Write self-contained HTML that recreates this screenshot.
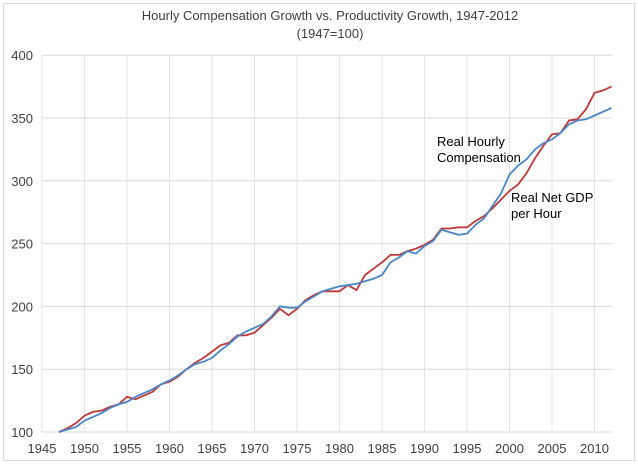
<!DOCTYPE html>
<html><head><meta charset="utf-8"><style>
body{margin:0;background:#fff}
svg text{font-family:"Liberation Sans",sans-serif;fill:#404040}
</style></head><body>
<svg id="s" width="638" height="466" xmlns="http://www.w3.org/2000/svg">
<rect x="3.5" y="3.5" width="631" height="457" fill="#fff" stroke="#d9d9d9"/>
<text x="330" y="20" font-size="13" text-anchor="middle">Hourly Compensation Growth vs. Productivity Growth, 1947-2012</text>
<text x="330" y="38" font-size="13" text-anchor="middle">(1947=100)</text>
<g id="g"></g>
<text x="437" y="146" font-size="13" fill="#000" style="fill:#000">Real Hourly</text>
<text x="437" y="162" font-size="13" style="fill:#000">Compensation</text>
<text x="511" y="202" font-size="13" style="fill:#000">Real Net GDP</text>
<text x="511" y="218" font-size="13" style="fill:#000">per Hour</text>
</svg>
<script>
var g=document.getElementById('g'),ns="http://www.w3.org/2000/svg",h='';
function X(y){return 42+(y-1945)*8.5}function Y(v){return 432-(v-100)*62.8/50}
for(var v=100;v<=400;v+=50){h+='<line x1="42" x2="612" y1="'+Y(v)+'" y2="'+Y(v)+'" stroke="#d9d9d9"/>';
h+='<text x="33" y="'+(Y(v)+5)+'" font-size="13" text-anchor="end">'+v+'</text>';}
for(var y=1945;y<=2010;y+=5){h+='<line y1="55" y2="432" x1="'+X(y)+'" x2="'+X(y)+'" stroke="#e3e3e3"/>';
h+='<text x="'+X(y)+'" y="453" font-size="13" text-anchor="middle">'+y+'</text>';}
var b=[100,102,104,109,112,115,119,122,124,128,131,134,138,141,145,150,154,156,159,165,170,176,180,183,186,192,200,199,199,204,208,212,214,216,217,218,220,222,225,235,239,244,242,248,252,261,259,257,258,265,270,280,290,305,312,317,325,330,333,338,345,348,349,352,355,358];
var r=[100,103,107,113,116,117,120,122,128,126,129,132,138,140,144,150,155,159,164,169,171,177,177,179,185,191,198,193,198,205,209,212,212,212,217,213,225,230,235,241,241,244,246,249,253,262,262,263,263,268,272,278,285,292,297,306,318,328,337,338,348,349,357,370,372,375];
function pl(a,c){var p=a.map(function(v,i){return X(1947+i).toFixed(1)+','+Y(v).toFixed(1)}).join(' ');
return '<polyline points="'+p+'" fill="none" stroke="'+c+'" stroke-width="1.8"/>';}
h+=pl(r,'#c0393b')+pl(b,'#4a86c8');
g.innerHTML=h;
</script>
</body></html>
